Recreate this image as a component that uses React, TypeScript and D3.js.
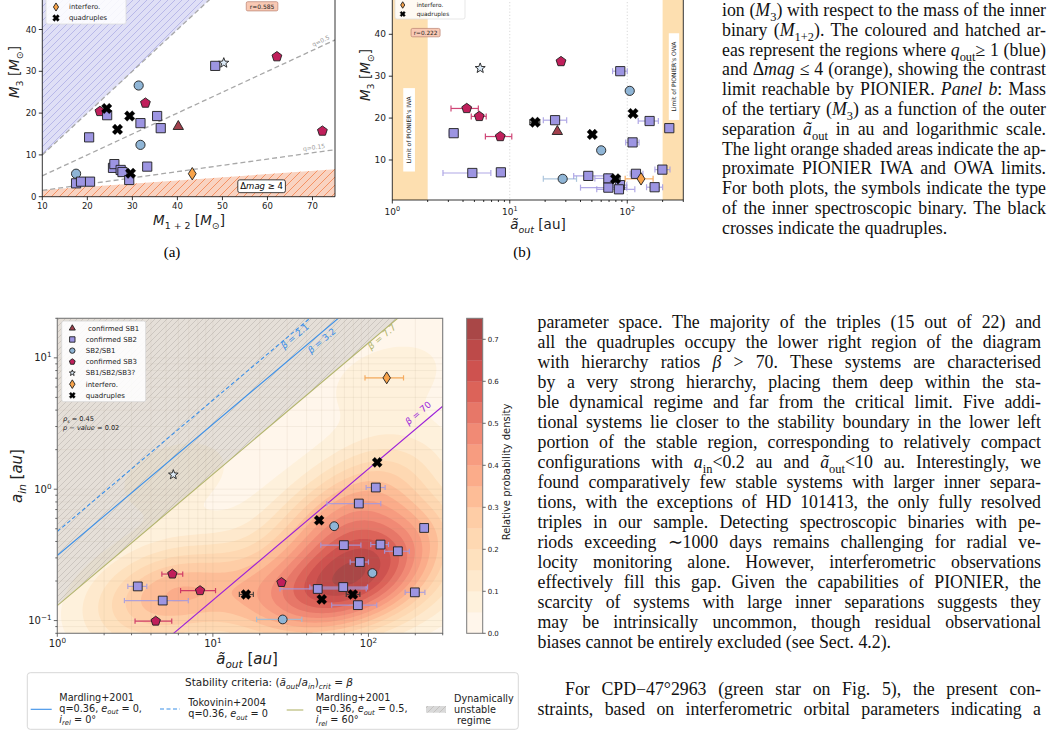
import React, { useLayoutEffect, useMemo, useRef } from 'react';
import * as d3 from 'd3';

const W = 1053;
const H = 753;
const SANS = "'DejaVu Sans', Verdana, sans-serif";
const SERIF = "'Liberation Serif', 'Times New Roman', serif";

// ---- marker kinds ----
// SB1 confirmed SB1, SB2 confirmed SB2, SB21 SB2/SB1, SB3 confirmed SB3,
// SBQ SB1/SB2/SB3?, INT interfero., QUAD quadruples
const legendKinds = ['SB1', 'SB2', 'SB21', 'SB3', 'SBQ', 'INT', 'QUAD'];
const legendNames = [' confirmed SB1', 'confirmed SB2', 'SB2/SB1', 'confirmed SB3', 'SB1/SB2/SB3?', 'interfero.', 'quadruples'];

const kindFill: Record<string, string> = {
  SB1: '#a2404c', SB2: '#9d95e2', SB21: '#8fb5d6', SB3: '#c01f5b', SBQ: '#dceaf7', INT: '#f8a34a', QUAD: '#000000',
};
const kindErr: Record<string, string> = {
  SB1: '#a2404c', SB2: '#a39ae2', SB21: '#9fbdd8', SB3: '#c8265f', SBQ: '#999999', INT: '#f5a04a', QUAD: '#333333',
};

// ---- panel (a): tertiary mass vs inner binary mass ----
const aKind = ['SB3', 'SB3', 'SB3', 'SB3', 'SB21', 'SB21', 'SB21', 'SB1',
  'SB2', 'SB2', 'SB2', 'SB2', 'SB2', 'SB2', 'SB2', 'SB2', 'SB2', 'SB2', 'SB2', 'SB2', 'SB2', 'SB2', 'SB2',
  'SBQ', 'INT', 'QUAD', 'QUAD', 'QUAD', 'QUAD'];
const aM12 = [22.8, 32.9, 62.1, 72.2, 17.5, 31.4, 31.8, 40.2,
  24.4, 20.4, 31.8, 35.5, 36.3, 48.4, 33.3, 17.5, 18.6, 20.6, 25.7, 26.0, 27.4, 27.8, 29.3,
  50.3, 43.3, 24.3, 26.7, 29.4, 29.6];
const aM3 = [20.4, 22.4, 33.5, 15.7, 5.5, 26.6, 12.4, 16.8,
  19.5, 14.2, 17.6, 19.3, 16.4, 31.3, 7.2, 3.2, 3.6, 3.6, 6.9, 7.8, 6.4, 5.9, 4.0,
  32.0, 5.5, 21.1, 16.1, 19.3, 5.6];
const qRatios = [1, 0.5, 0.15];
const qLabels = ['', 'q=0.5', 'q=0.15'];
const dmagM12 = [10, 75];
const dmagM3 = [1.6, 6.55];
const aTicksX = [10, 20, 30, 40, 50, 60, 70];
const aTicksY = [0, 10, 20, 30, 40];

// ---- panel (b): tertiary mass vs outer separation ----
const bKind = ['SB3', 'SB3', 'SB3', 'SB3', 'SB21', 'SB21', 'SB21', 'SB1',
  'SB2', 'SB2', 'SB2', 'SB2', 'SB2', 'SB2', 'SB2', 'SB2', 'SB2', 'SB2', 'SB2', 'SB2', 'SB2', 'SB2', 'SB2', 'SB2',
  'SBQ', 'INT', 'QUAD', 'QUAD', 'QUAD', 'QUAD'];
const bAout = [27.3, 4.3, 5.5, 8.3, 105, 60, 28.2, 25.4,
  3.33, 4.8, 8.4, 24.3, 87.2, 155, 228, 111, 118.6, 199, 46.6, 69, 69, 86.7, 85, 171,
  5.6, 131, 16.4, 50.4, 112, 79.4];
const bM3 = [33.5, 22.3, 20.4, 15.6, 26.5, 12.3, 5.5, 16.8,
  16.4, 6.9, 7.06, 19.5, 31.2, 19.3, 17.6, 14.2, 6.7, 7.7, 6.2, 5.6, 3.4, 4.0, 3.0, 3.5,
  31.9, 5.5, 19.0, 16.1, 21.1, 5.5];
const bLo = [27.3, 3.16, 4.7, 6.2, 105, 60, 19.3, 25.4,
  3.05, 2.7, 7.9, 19.3, 75, 124, 228, 97, 106, 172, 35, 53, 40, 76, 55, 146,
  5.6, 96, 14.8, 48, 108, 72];
const bHi = [27.3, 5.4, 6.3, 10.4, 105, 60, 37, 25.4,
  3.6, 6.9, 8.9, 30.5, 100, 184, 228, 126, 136, 231, 67, 84, 99, 99, 116, 200,
  5.6, 166, 18, 53, 116, 87];
const iwaRange = [1, 2];
const owaRange = [200, 300];
const bTicksY = [10, 20, 30, 40];

// ---- main figure: inner vs outer separation ----
const cKind = ['SB3', 'SB3', 'SB3', 'SB3', 'SB21', 'SB21', 'SB21',
  'SB2', 'SB2', 'SB2', 'SB2', 'SB2', 'SB2', 'SB2', 'SB2', 'SB2', 'SB2', 'SB2', 'SB2', 'SB2',
  'SBQ', 'INT', 'QUAD', 'QUAD', 'QUAD', 'QUAD', 'QUAD'];
const cAout = [27.6, 5.49, 8.27, 4.29, 60.2, 106, 28.1,
  111.5, 86.7, 228, 69.5, 119.5, 154.5, 88, 47.2, 68.8, 85.5, 198.7, 3.29, 4.76,
  5.57, 131, 113.8, 48.2, 79.4, 50.1, 16.3];
const cAin = [0.195, 0.226, 0.169, 0.099, 0.523, 0.23, 0.102,
  1.03, 0.778, 0.507, 0.375, 0.379, 0.337, 0.279, 0.174, 0.18, 0.131, 0.164, 0.182, 0.142,
  1.29, 7.04, 1.6, 0.58, 0.158, 0.145, 0.158];
const cLo = [27.6, 4.7, 6.2, 3.16, 60.2, 106, 19.1,
  96.6, 54, 215, 49.4, 103.5, 127, 76.3, 27, 42, 58, 172, 2.84, 2.7,
  5.57, 95, 113.8, 48.2, 72, 50.1, 14.8];
const cHi = [27.6, 6.4, 10.4, 5.44, 60.2, 106, 37.3,
  128, 120, 242, 89.4, 134.5, 183, 100, 96.7, 98.6, 113, 230.5, 3.76, 6.95,
  5.57, 168, 113.8, 48.2, 88, 50.1, 18.2];
const betas = [2.1, 3.2, 7.7, 70];
const betaLabelX = [33.7, 50.1, 122, 209];
const betaLabelY = [14.6, 13.5, 14.45, 3.79];
const densityLevels = d3.range(0, 15).map((k) => k * 0.05);
const cbTicks = [0, 0.1, 0.2, 0.3, 0.4, 0.5, 0.6, 0.7];
const spearman = ['*ρ*_{*s*} = 0.45', '*p* − *value* = 0.02'];

const betaColor = ['#3a8fe8', '#3a8fe8', '#b2b46c', '#9b1fd9'];
const betaDash = ['4,2.5', null, null, null];

// ---- simple inline markup: *italic*, _{sub}, _{*italic sub*} ----
type Seg = { t: string; it: boolean; sub: boolean };
function parse(s: string): Seg[] {
  const out: Seg[] = [];
  const re = /\*([^*]+)\*|_\{([^}]+)\}/g;
  let last = 0;
  let m: RegExpExecArray | null;
  while ((m = re.exec(s))) {
    if (m.index > last) out.push({ t: s.slice(last, m.index), it: false, sub: false });
    if (m[1] !== undefined) out.push({ t: m[1], it: true, sub: false });
    else {
      const c = m[2];
      const it = c.length > 2 && c.startsWith('*') && c.endsWith('*');
      out.push({ t: it ? c.slice(1, -1) : c, it, sub: true });
    }
    last = re.lastIndex;
  }
  if (last < s.length) out.push({ t: s.slice(last), it: false, sub: false });
  return out;
}

function Rich({ s, size }: { s: string; size: number }) {
  const sh = size * 0.28;
  let prev = false;
  return (
    <>
      {parse(s).map((g, i) => {
        const dy = g.sub && !prev ? sh : !g.sub && prev ? -sh : 0;
        prev = g.sub;
        return (
          <tspan key={i} dy={dy || undefined} fontStyle={g.it ? 'italic' : undefined} fontSize={g.sub ? size * 0.7 : undefined}>
            {g.t}
          </tspan>
        );
      })}
    </>
  );
}

// ---- marker shapes ----
function ngon(n: number, r: number, inner = 0) {
  const k = inner ? 2 * n : n;
  const pts: string[] = [];
  for (let i = 0; i < k; i++) {
    const rr = inner && i % 2 ? inner : r;
    const a = -Math.PI / 2 + (i * 2 * Math.PI) / k;
    pts.push(`${(rr * Math.cos(a)).toFixed(2)},${(rr * Math.sin(a)).toFixed(2)}`);
  }
  return `M${pts.join('L')}Z`;
}
function crossPath(s: number) {
  const w = s * 0.36;
  const raw = [[w, s], [w, w], [s, w], [s, -w], [w, -w], [w, -s], [-w, -s], [-w, -w], [-s, -w], [-s, w], [-w, w], [-w, s]];
  const c = Math.SQRT1_2;
  return 'M' + raw.map(([px, py]) => `${((px - py) * c).toFixed(2)},${((px + py) * c).toFixed(2)}`).join('L') + 'Z';
}
function markerPath(kind: string, s: number) {
  switch (kind) {
    case 'SB2': return `M${-s},${-s}H${s}V${s}H${-s}Z`;
    case 'SB21': return `M${s},0A${s},${s} 0 1 1 ${-s},0A${s},${s} 0 1 1 ${s},0Z`;
    case 'SB3': return ngon(5, s * 1.12);
    case 'SB1': return ngon(3, s * 1.3);
    case 'SBQ': return ngon(5, s * 1.15, s * 0.48);
    case 'INT': return `M0,${-s * 1.35}L${s * 0.85},0L0,${s * 1.35}L${-s * 0.85},0Z`;
    default: return crossPath(s * 1.2);
  }
}

function Mark({ kind, x, y, s }: { kind: string; x: number; y: number; s: number }) {
  return (
    <path
      d={markerPath(kind, s)}
      transform={`translate(${x.toFixed(2)},${y.toFixed(2)})`}
      fill={kindFill[kind]}
      stroke={kind === 'QUAD' ? '#000' : '#1e1e1e'}
      strokeWidth={kind === 'QUAD' ? 0.3 : 0.9}
    />
  );
}

function ErrBar({ x1, x2, y, color, cap }: { x1: number; x2: number; y: number; color: string; cap: number }) {
  if (Math.abs(x2 - x1) < 0.5) return null;
  return (
    <g stroke={color} strokeWidth={1.2} opacity={0.85}>
      <line x1={x1} x2={x2} y1={y} y2={y} />
      <line x1={x1} x2={x1} y1={y - cap} y2={y + cap} />
      <line x1={x2} x2={x2} y1={y - cap} y2={y + cap} />
    </g>
  );
}

function Pow10({ x, y, e, size, anchor }: { x: number; y: number; e: number; size: number; anchor: string }) {
  return (
    <text x={x} y={y} fontSize={size} textAnchor={anchor} fill="#222">
      10<tspan dy={-size * 0.42} fontSize={size * 0.72}>{e < 0 ? '−' + -e : String(e)}</tspan>
    </text>
  );
}

const isDecade = (v: number) => Math.abs(Math.log10(v) - Math.round(Math.log10(v))) < 1e-9;

// ---------------- panel (a) ----------------
function PanelA() {
  const x = d3.scaleLinear().domain([10, 75]).range([42.3, 335]);
  const y = d3.scaleLinear().domain([0, 50]).range([196.7, -12.3]);
  const [x0, x1] = x.range();
  const [yb, yt] = y.range();
  const pt = (a: number, b: number) => `${x(a).toFixed(2)},${y(b).toFixed(2)}`;
  const blue = [pt(10, 10), pt(75, 75), pt(10, 75)].join(' ');
  const orange = [pt(dmagM12[0], 0), pt(dmagM12[0], dmagM3[0]), pt(dmagM12[1], dmagM3[1]), pt(dmagM12[1], 0)].join(' ');
  const legendY = legendKinds.map((_, i) => 18 - (legendKinds.length - 1 - i) * 11);
  return (
    <g>
      <clipPath id="clipA"><rect x={x0} y={yt} width={x1 - x0} height={yb - yt} /></clipPath>
      <g clipPath="url(#clipA)">
        <polygon points={blue} fill="#dfdff6" />
        <polygon points={blue} fill="url(#hatchBlue)" />
        <polygon points={orange} fill="#f9d3c1" />
        <polygon points={orange} fill="url(#hatchOrange)" />
        {qRatios.map((q) => (
          <line key={q} x1={x(10)} y1={y(10 * q)} x2={x(75)} y2={y(75 * q)} stroke="#a8a8a8" strokeWidth={1.3} strokeDasharray="5,3" />
        ))}
        {qRatios.map((q, i) => {
          if (!qLabels[i]) return null;
          const mx = i === 1 ? 72.3 : 70.5;
          const ang = (Math.atan2(y(75 * q) - y(10 * q), x(75) - x(10)) * 180) / Math.PI;
          return (
            <text key={q} transform={`translate(${x(mx)},${y(mx * q)}) rotate(${ang})`} y={-3} textAnchor="middle" fontSize={6} fill="#9a9a9a">
              {qLabels[i]}
            </text>
          );
        })}
        {aKind.map((k, i) => <Mark key={i} kind={k} x={x(aM12[i])} y={y(aM3[i])} s={4.6} />)}
      </g>
      {/* delta-mag annotation and correlation coefficient */}
      <g transform={`translate(${x(58.7)},${y(2.5)})`}>
        <rect x={-23.8} y={-6.4} width={47.6} height={12.8} rx={2} fill="#fff" stroke="#111" strokeWidth={0.8} />
        <text y={3} textAnchor="middle" fontSize={8.5}><Rich s="Δ*mag* ≥ 4" size={8.5} /></text>
      </g>
      <g transform={`translate(${x(58.8)},${y(45.55)})`}>
        <rect x={-15.8} y={-4.6} width={31.6} height={9.2} rx={1.5} fill="#f9c9b4" stroke="#b98070" strokeWidth={0.7} />
        <text y={2.2} textAnchor="middle" fontSize={6} fill="#222">r=0.585</text>
      </g>
      {/* legend, mostly above the visible area */}
      <rect x={46} y={-62} width={80} height={86} rx={2} fill="#fff" fillOpacity={0.85} stroke="#dddddd" strokeWidth={0.8} />
      {legendKinds.map((k, i) => (
        <g key={k}>
          <Mark kind={k} x={56} y={legendY[i]} s={3} />
          <text x={69} y={legendY[i] + 2.4} fontSize={6.8} fill="#222">{legendNames[i].trim()}</text>
        </g>
      ))}
      {/* axes */}
      <g stroke="#000" strokeWidth={0.8} fill="none">
        <line x1={x0} x2={x1} y1={yb} y2={yb} />
        <line x1={x0} x2={x0} y1={yt} y2={yb} />
        <line x1={x1} x2={x1} y1={yt} y2={yb} />
        {aTicksX.map((t) => <line key={t} x1={x(t)} x2={x(t)} y1={yb} y2={yb + 3.5} />)}
        {aTicksY.map((t) => <line key={t} x1={x0} x2={x0 - 3.5} y1={y(t)} y2={y(t)} />)}
      </g>
      {aTicksX.map((t) => <text key={t} x={x(t)} y={208.5} fontSize={8.5} textAnchor="middle" fill="#222">{t}</text>)}
      {aTicksY.map((t) => <text key={t} x={36.5} y={y(t) + 3} fontSize={8.5} textAnchor="end" fill="#222">{t}</text>)}
      <text transform="translate(14.5,72) rotate(-90)" y={4.5} textAnchor="middle" fontSize={13.5} fill="#222">
        <Rich s="*M*_{3} [*M*_{⊙}]" size={13.5} />
      </text>
      <text x={189} y={225} textAnchor="middle" fontSize={13.5} fill="#222">
        <Rich s="*M*_{1 + 2} [*M*_{⊙}]" size={13.5} />
      </text>
      <text x={172} y={257} textAnchor="middle" fontFamily={SERIF} fontSize={15}>(a)</text>
    </g>
  );
}

// ---------------- panel (b) ----------------
function PanelB() {
  const x = d3.scaleLog().domain([1, 300]).range([392.3, 683.3]);
  const y = d3.scaleLinear().domain([0.45, 50]).range([200, -7.6]);
  const [x0, x1] = x.range();
  const [yb, yt] = y.range();
  const ticks = x.ticks();
  const legendY = legendKinds.map((_, i) => 14 - (legendKinds.length - 1 - i) * 9);
  const vBox = (cx: number, cy: number, w: number, h: number, label: string) => (
    <g transform={`translate(${cx},${cy})`}>
      <rect x={-w / 2} y={-h / 2} width={w} height={h} fill="#fff" />
      <text transform="rotate(-90)" y={2.1} textAnchor="middle" fontSize={6} fill="#222">{label}</text>
    </g>
  );
  return (
    <g>
      <clipPath id="clipB"><rect x={x0} y={yt} width={x1 - x0} height={yb - yt} /></clipPath>
      <g clipPath="url(#clipB)">
        <rect x={x(iwaRange[0])} y={yt} width={x(iwaRange[1]) - x(iwaRange[0])} height={yb - yt} fill="#fddfb0" />
        <rect x={x(owaRange[0])} y={yt} width={x(owaRange[1]) - x(owaRange[0])} height={yb - yt} fill="#fddfb0" />
        {[10, 100].map((t) => (
          <line key={t} x1={x(t)} x2={x(t)} y1={yt} y2={yb} stroke="#cfcfcf" strokeWidth={0.8} strokeDasharray="1.2,2" />
        ))}
        {vBox(x(1.39), y(17.2), 11.7, 83.4, "Limit of PIONIER's IWA")}
        {vBox(x(250), y(29.9), 10.4, 86.7, "Limit of PIONIER's OWA")}
        {bKind.map((k, i) => (
          <ErrBar key={i} x1={x(bLo[i])} x2={x(bHi[i])} y={y(bM3[i])} color={kindErr[k]} cap={3} />
        ))}
        {bKind.map((k, i) => <Mark key={i} kind={k} x={x(bAout[i])} y={y(bM3[i])} s={4.6} />)}
      </g>
      <g transform={`translate(${x(1.92)},${y(40.4)})`}>
        <rect x={-14.5} y={-4.2} width={29} height={8.4} rx={1.5} fill="#f9c9b4" stroke="#b98070" strokeWidth={0.7} />
        <text y={2.1} textAnchor="middle" fontSize={5.8} fill="#222">r=0.222</text>
      </g>
      <rect x={395} y={-52} width={70} height={71} rx={2} fill="#fff" fillOpacity={0.85} stroke="#dddddd" strokeWidth={0.7} />
      {legendKinds.map((k, i) => (
        <g key={k}>
          <Mark kind={k} x={402.7} y={legendY[i]} s={2.4} />
          <text x={416.7} y={legendY[i] + 2} fontSize={5.8} fill="#222">{legendNames[i].trim()}</text>
        </g>
      ))}
      <g stroke="#000" strokeWidth={0.8} fill="none">
        <line x1={x0} x2={x1} y1={yb} y2={yb} />
        <line x1={x0} x2={x0} y1={yt} y2={yb} />
        <line x1={x1} x2={x1} y1={yt} y2={yb} />
        {ticks.map((t) => <line key={t} x1={x(t)} x2={x(t)} y1={yb} y2={yb + (isDecade(t) ? 3.5 : 2)} />)}
        {bTicksY.map((t) => <line key={t} x1={x0} x2={x0 - 3.5} y1={y(t)} y2={y(t)} />)}
      </g>
      {ticks.filter(isDecade).map((t) => (
        <Pow10 key={t} x={x(t)} y={214.5} e={Math.round(Math.log10(t))} size={9} anchor="middle" />
      ))}
      {bTicksY.map((t) => <text key={t} x={386} y={y(t) + 3} fontSize={9} textAnchor="end" fill="#222">{t}</text>)}
      <text transform="translate(365.5,75) rotate(-90)" y={4.5} textAnchor="middle" fontSize={13.5} fill="#222">
        <Rich s="*M*_{3} [*M*_{⊙}]" size={13.5} />
      </text>
      <text x={538} y={229} textAnchor="middle" fontSize={13.5} fill="#222">
        <Rich s="*ã*_{*out*} [au]" size={13.5} />
      </text>
      <text x={522} y={257} textAnchor="middle" fontFamily={SERIF} fontSize={15}>(b)</text>
    </g>
  );
}

// ---------------- main figure ----------------
function kdeGrid(xs: number[], ys: number[], nx: number, ny: number, ext: number[], peak: number) {
  const n = xs.length;
  const mx = d3.mean(xs) as number;
  const my = d3.mean(ys) as number;
  let sxx = 0, syy = 0, sxy = 0;
  for (let i = 0; i < n; i++) {
    sxx += (xs[i] - mx) ** 2;
    syy += (ys[i] - my) ** 2;
    sxy += (xs[i] - mx) * (ys[i] - my);
  }
  // Scott's rule on the full covariance, as scipy's gaussian_kde does
  const f2 = Math.pow(n, -1 / 3) / (n - 1);
  const a = sxx * f2, b = sxy * f2, d = syy * f2;
  const det = a * d - b * b;
  const ia = d / det, ib = -b / det, id = a / det;
  const [lx0, lx1, ly0, ly1] = ext;
  const vals = new Array(nx * ny).fill(0);
  for (let j = 0; j < ny; j++) {
    const ly = ly1 - ((j + 0.5) / ny) * (ly1 - ly0);
    for (let i = 0; i < nx; i++) {
      const lx = lx0 + ((i + 0.5) / nx) * (lx1 - lx0);
      let s = 0;
      for (let k = 0; k < n; k++) {
        const dx = lx - xs[k], dy = ly - ys[k];
        s += Math.exp(-0.5 * (ia * dx * dx + 2 * ib * dx * dy + id * dy * dy));
      }
      vals[j * nx + i] = s;
    }
  }
  const mxv = d3.max(vals) as number;
  return vals.map((v) => (v / mxv) * peak);
}

const bandColor = (k: number) =>
  d3.interpolateRgb('#ffffff', d3.interpolateOrRd(0.03 + (k / 14) * 0.95))(0.72);

function PanelC() {
  const L = 57.3, R = 442.7, T = 318.3, B = 633.3;
  const x = d3.scaleLog().domain([1, 300]).range([L, R]);
  const y = d3.scaleLog().domain([0.08, 20]).range([B, T]);
  const nx = 160, ny = 130;
  const paths = useMemo(() => {
    const ext = [0, Math.log10(300), Math.log10(0.08), Math.log10(20)];
    const vals = kdeGrid(cAout.map(Math.log10), cAin.map(Math.log10), nx, ny, ext, 0.72);
    const proj = d3.geoTransform({
      point(px: number, py: number) {
        // @ts-ignore
        this.stream.point(L + (px / nx) * (R - L), T + (py / ny) * (B - T));
      },
    });
    const gp = d3.geoPath(proj);
    return d3.contours().size([nx, ny]).thresholds(densityLevels)(vals).map((c) => gp(c as any) || '');
  }, []);
  const xt = x.ticks();
  const yt = y.ticks();
  const unstable = [[1, 1 / 7.7], [1, 20], [154, 20]].map(([a, b]) => `${x(a)},${y(b)}`).join(' ');
  const slope = (Math.atan2(y(10) - y(1), x(10) - x(1)) * 180) / Math.PI;
  const cb = d3.scaleLinear().domain([0, 0.75]).range([B, T]);
  const cbX = 466.7, cbW = 16;
  const legY = legendKinds.map((_, i) => 328.3 + i * 11.17);
  return (
    <g>
      <clipPath id="clipC"><rect x={L} y={T} width={R - L} height={B - T} /></clipPath>
      <g clipPath="url(#clipC)">
        {paths.map((d, k) => <path key={k} d={d} fill={bandColor(k)} />)}
        <g stroke="#a89278" strokeOpacity={0.22} strokeWidth={0.5}>
          {xt.map((t) => <line key={'x' + t} x1={x(t)} x2={x(t)} y1={T} y2={B} />)}
          {yt.map((t) => <line key={'y' + t} x1={L} x2={R} y1={y(t)} y2={y(t)} />)}
        </g>
        <polygon points={unstable} fill="#b4b4b4" fillOpacity={0.35} />
        <polygon points={unstable} fill="url(#hatchGray)" />
        {betas.map((bt, i) => (
          <line key={bt} x1={x(1)} y1={y(1 / bt)} x2={x(300)} y2={y(300 / bt)} stroke={betaColor[i]}
            strokeWidth={1.1} strokeDasharray={betaDash[i] || undefined} />
        ))}
        {betas.map((bt, i) => (
          <text key={bt} transform={`translate(${x(betaLabelX[i])},${y(betaLabelY[i])}) rotate(${slope})`} textAnchor="middle"
            y={3} fontSize={9} fill={betaColor[i]}>
            <Rich s={`*β* = ${bt}`} size={9} />
          </text>
        ))}
        {cKind.map((k, i) => (
          <ErrBar key={i} x1={x(cLo[i])} x2={x(cHi[i])} y={y(cAin[i])} color={kindErr[k]} cap={2.6} />
        ))}
        {cKind.map((k, i) => <Mark key={i} kind={k} x={x(cAout[i])} y={y(cAin[i])} s={4.4} />)}
      </g>
      {/* legend */}
      <rect x={61.7} y={321} width={84} height={80.7} rx={2} fill="#fff" fillOpacity={0.88} stroke="#d6d6d6" strokeWidth={0.8} />
      {legendKinds.map((k, i) => (
        <g key={k}>
          <Mark kind={k} x={72.3} y={legY[i]} s={k === 'INT' ? 3.2 : 2.7} />
          <text x={85.7} y={legY[i] + 2.5} fontSize={7} fill="#222" style={{ whiteSpace: 'pre' }}>{legendNames[i]}</text>
        </g>
      ))}
      {spearman.map((s, i) => (
        <text key={i} x={63} y={421 + i * 9} fontSize={6.6} fill="#222"><Rich s={s} size={6.6} /></text>
      ))}
      {/* frame and ticks */}
      <rect x={L} y={T} width={R - L} height={B - T} fill="none" stroke="#7a7a7a" strokeWidth={1.1} />
      <g stroke="#444" strokeWidth={0.8}>
        {xt.map((t) => <line key={t} x1={x(t)} x2={x(t)} y1={B} y2={B + (isDecade(t) ? 3.5 : 2)} />)}
        {yt.map((t) => <line key={t} x1={L} x2={L - (isDecade(t) ? 3.5 : 2)} y1={y(t)} y2={y(t)} />)}
      </g>
      {xt.filter(isDecade).map((t) => (
        <Pow10 key={t} x={x(t)} y={647} e={Math.round(Math.log10(t))} size={10} anchor="middle" />
      ))}
      {yt.filter(isDecade).map((t) => (
        <Pow10 key={t} x={51.5} y={y(t) + 3.5} e={Math.round(Math.log10(t))} size={10} anchor="end" />
      ))}
      <text x={247} y={664} textAnchor="middle" fontSize={15} fill="#222"><Rich s="*ã*_{*out*} [*au*]" size={15} /></text>
      <text transform="translate(17,476) rotate(-90)" y={5} textAnchor="middle" fontSize={15} fill="#222">
        <Rich s="*a*_{*in*} [*au*]" size={15} />
      </text>
      {/* colour bar */}
      {densityLevels.map((lv, k) => (
        <rect key={k} x={cbX} y={cb(lv + 0.05)} width={cbW} height={cb(lv) - cb(lv + 0.05) + 0.3} fill={bandColor(k)} />
      ))}
      <rect x={cbX} y={T} width={cbW} height={B - T} fill="none" stroke="#7a7a7a" strokeWidth={1} />
      {cbTicks.map((t) => (
        <g key={t}>
          <line x1={cbX + cbW} x2={cbX + cbW + 3} y1={cb(t)} y2={cb(t)} stroke="#444" strokeWidth={0.8} />
          <text x={cbX + cbW + 5} y={cb(t) + 2.5} fontSize={7} fill="#222">{t.toFixed(1)}</text>
        </g>
      ))}
      <text transform="translate(510,472) rotate(-90)" y={0} textAnchor="middle" fontSize={10} fill="#222">
        Relative probability density
      </text>
      {/* stability criteria legend */}
      <rect x={27.3} y={672.7} width={491} height={56.6} rx={3} fill="#fff" stroke="#d3d3d3" strokeWidth={0.9} />
      <text x={269} y={686} textAnchor="middle" fontSize={10.5} fill="#222">
        <Rich s="Stability criteria: (*ã*_{*out*}/*a*_{*in*})_{*crit*} = *β*" size={10.5} />
      </text>
      <line x1={30.7} x2={51.7} y1={709.3} y2={709.3} stroke={betaColor[1]} strokeWidth={1.1} />
      <line x1={160} x2={180} y1={709} y2={709} stroke={betaColor[0]} strokeWidth={1.1} strokeDasharray="4,2.5" />
      <line x1={286.7} x2={303.3} y1={710} y2={710} stroke={betaColor[2]} strokeWidth={1.1} />
      <rect x={426} y={706} width={20} height={6.7} fill="#d9d9d9" />
      <rect x={426} y={706} width={20} height={6.7} fill="url(#hatchGray)" />
      {[
        { x: 59.3, y: 700.5, lines: ['Mardling+2001', 'q=0.36, *e*_{*out*} = 0,', '*i*_{*rel*} = 0°'] },
        { x: 188.3, y: 706, lines: ['Tokovinin+2004', 'q=0.36, *e*_{*out*} = 0'] },
        { x: 315.7, y: 701, lines: ['Mardling+2001', 'q=0.36, *e*_{*out*} = 0.5,', '*i*_{*rel*} = 60°'] },
        { x: 454, y: 701.5, lines: ['Dynamically', 'unstable', ' regime'] },
      ].map((e, i) => (
        <g key={i}>
          {e.lines.map((s, j) => (
            <text key={j} x={e.x} y={e.y + j * 11} fontSize={9.7} fill="#222" style={{ whiteSpace: 'pre' }}>
              <Rich s={s} size={9.7} />
            </text>
          ))}
        </g>
      ))}
    </g>
  );
}

// ---------------- justified serif text ----------------
function JLine({ x, y, width, justify, size, s }: { x: number; y: number; width: number; justify: boolean; size: number; s: string }) {
  const ref = useRef<SVGTextElement>(null);
  useLayoutEffect(() => {
    const el = ref.current;
    if (!el || !justify) return;
    const fit = () => {
      el.style.wordSpacing = '0px';
      const len = el.getComputedTextLength();
      const spaces = (el.textContent || '').split(' ').length - 1;
      if (spaces > 0) el.style.wordSpacing = `${(width - len) / spaces}px`;
    };
    fit();
    if ((document as any).fonts) (document as any).fonts.ready.then(fit);
  }, [width, justify, s]);
  return (
    <text ref={ref} x={x} y={y} fontFamily={SERIF} fontSize={size} fill="#111">
      <Rich s={s} size={size} />
    </text>
  );
}

const captionLines = [
  'ion (*M*_{3}) with respect to the mass of the inner',
  'binary (*M*_{1+2}). The coloured and hatched ar-',
  'eas represent the regions where *q*_{out}≥ 1 (blue)',
  'and Δ*mag* ≤ 4 (orange), showing the contrast',
  'limit reachable by PIONIER. *Panel b*: Mass',
  'of the tertiary (*M*_{3}) as a function of the outer',
  'separation *ã*_{out} in au and logarithmic scale.',
  'The light orange shaded areas indicate the ap-',
  'proximate PIONIER IWA and OWA limits.',
  'For both plots, the symbols indicate the type',
  'of the inner spectroscopic binary. The black',
  'crosses indicate the quadruples.',
];

const bodyLines = [
  'parameter space. The majority of the triples (15 out of 22) and',
  'all the quadruples occupy the lower right region of the diagram',
  'with hierarchy ratios *β* > 70. These systems are characterised',
  'by a very strong hierarchy, placing them deep within the sta-',
  'ble dynamical regime and far from the critical limit. Five addi-',
  'tional systems lie closer to the stability boundary in the lower left',
  'portion of the stable region, corresponding to relatively compact',
  'configurations with *a*_{in}<0.2 au and *ã*_{out}<10 au. Interestingly, we',
  'found comparatively few stable systems with larger inner separa-',
  'tions, with the exceptions of HD 101413, the only fully resolved',
  'triples in our sample. Detecting spectroscopic binaries with pe-',
  'riods exceeding ∼1000 days remains challenging for radial ve-',
  'locity monitoring alone. However, interferometric observations',
  'effectively fill this gap. Given the capabilities of PIONIER, the',
  'scarcity of systems with large inner separations suggests they',
  'may be intrinsically uncommon, though residual observational',
  'biases cannot be entirely excluded (see Sect. 4.2).',
];
const nextParaLines = [
  'For CPD−47°2963 (green star on Fig. 5), the present con-',
  'straints, based on interferometric orbital parameters indicating a',
];

function TextColumn() {
  const fs = 17.8;
  return (
    <g>
      {captionLines.map((s, i) => (
        <JLine key={i} x={722} y={16 + i * 19.8} width={324} justify={i < captionLines.length - 1} size={fs} s={s} />
      ))}
      {bodyLines.map((s, i) => (
        <JLine key={i} x={537.5} y={328 + i * 20} width={503.5} justify={i < bodyLines.length - 1} size={fs} s={s} />
      ))}
      {nextParaLines.map((s, i) => (
        <JLine key={i} x={i === 0 ? 565 : 537.5} y={695 + i * 20} width={i === 0 ? 476 : 503.5} justify size={fs} s={s} />
      ))}
    </g>
  );
}

export default function App() {
  return (
    <svg width={W} height={H} viewBox={`0 0 ${W} ${H}`} fontFamily={SANS}
      style={{ position: 'absolute', left: 0, top: 0, background: '#fff', display: 'block' }}>
      <defs>
        <pattern id="hatchBlue" patternUnits="userSpaceOnUse" width={7} height={7}>
          <path d="M-1,1 l2,-2 M0,7 l7,-7 M6,8 l2,-2" stroke="#a7a7e4" strokeWidth={0.7} />
        </pattern>
        <pattern id="hatchOrange" patternUnits="userSpaceOnUse" width={8} height={8}>
          <path d="M-1,1 l2,-2 M0,8 l8,-8 M7,9 l2,-2" stroke="#f2824c" strokeWidth={0.8} />
        </pattern>
        <pattern id="hatchGray" patternUnits="userSpaceOnUse" width={6} height={6}>
          <path d="M-1,1 l2,-2 M0,6 l6,-6 M5,7 l2,-2" stroke="#9a948c" strokeOpacity={0.55} strokeWidth={0.6} />
        </pattern>
      </defs>
      <PanelA />
      <PanelB />
      <PanelC />
      <TextColumn />
    </svg>
  );
}
